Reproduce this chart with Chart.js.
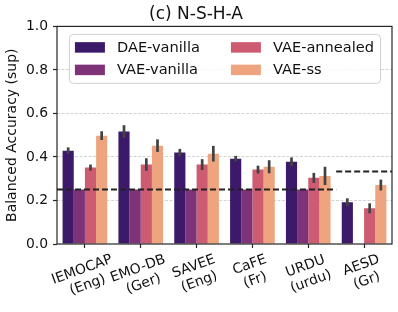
<!DOCTYPE html>
<html><head><meta charset="utf-8">
<script src="https://cdn.jsdelivr.net/npm/chart.js@4.4.1/dist/chart.umd.min.js"></script>
<style>html,body{margin:0;padding:0;background:#fff;} #wrap{width:398px;height:312px;}</style>
</head><body><div id="wrap"><canvas id="c" width="398" height="312"></canvas></div>
<script>
const categories = [["IEMOCAP","(Eng)"],["EMO-DB","(Ger)"],["SAVEE","(Eng)"],["CaFE","(Fr)"],["URDU","(urdu)"],["AESD","(Gr)"]];
const seriesNames = ["DAE-vanilla","VAE-vanilla","VAE-annealed","VAE-ss"];
const daeVanilla = [0.429,0.517,0.420,0.392,0.378,0.192];
const daeVanillaErr = [0.015,0.029,0.017,0.013,0.020,0.018];
const vaeVanilla = [0.25,0.25,0.25,0.25,0.25,null];
const vaeVanillaErr = [0,0,0,0,0,0];
const vaeAnnealed = [0.351,0.365,0.365,0.342,0.304,0.164];
const vaeAnnealedErr = [0.014,0.029,0.025,0.018,0.023,0.023];
const vaeSs = [0.498,0.452,0.415,0.355,0.313,0.271];
const vaeSsErr = [0.020,0.029,0.036,0.030,0.042,0.025];
const chanceLevel = [0.25,0.25,0.25,0.25,0.25,0.333];
const yTicks = [0,0.2,0.4,0.6,0.8,1.0];

const colors = ["#3d1a69","#7e3378","#cd5b72","#eea57f"];
const FONT = "DejaVu Sans";
const W_X_H = 68; // x-axis band height
const Y_AX_W = 57;

const allValues = [daeVanilla, vaeVanilla, vaeAnnealed, vaeSs];
const allErrs = [daeVanillaErr, vaeVanillaErr, vaeAnnealedErr, vaeSsErr];

const datasets = seriesNames.map((n,i)=>({
  label:n, data:allValues[i], errors:allErrs[i],
  backgroundColor:colors[i], borderWidth:0,
  categoryPercentage:0.8, barPercentage:1.0
}));

const overlayPlugin = {
  id:'overlay',
  afterDatasetsDraw(chart){
    const ctx = chart.ctx, xs = chart.scales.x, ys = chart.scales.y;
    // chance level dashed lines (merge consecutive equal levels)
    ctx.save();
    ctx.strokeStyle = '#222';
    ctx.lineWidth = 2;
    ctx.setLineDash([6,3]);
    let start = 0;
    for (let i=1;i<=chanceLevel.length;i++){
      if (i===chanceLevel.length || chanceLevel[i]!==chanceLevel[start]){
        const yv = ys.getPixelForValue(chanceLevel[start]);
        ctx.beginPath();
        ctx.moveTo(xs.getPixelForValue(start-0.5), yv);
        ctx.lineTo(xs.getPixelForValue(i-0.5), yv);
        ctx.stroke();
        start = i;
      }
    }
    ctx.restore();
    // error bars
    ctx.save();
    ctx.strokeStyle = '#424242';
    ctx.lineWidth = 2.7;
    ctx.lineCap = 'butt';
    chart.data.datasets.forEach((ds,di)=>{
      const meta = chart.getDatasetMeta(di);
      meta.data.forEach((bar,i)=>{
        const v = ds.data[i], e = ds.errors[i];
        if (v==null || !e) return;
        ctx.beginPath();
        ctx.moveTo(bar.x, ys.getPixelForValue(v-e));
        ctx.lineTo(bar.x, ys.getPixelForValue(v+e));
        ctx.stroke();
      });
    });
    ctx.restore();
  },
  afterDraw(chart){
    const ctx = chart.ctx, ca = chart.chartArea, xs = chart.scales.x;
    // frame
    ctx.save();
    ctx.strokeStyle = '#262626';
    ctx.lineWidth = 1.2;
    ctx.strokeRect(ca.left, ca.top, ca.right-ca.left, ca.bottom-ca.top);
    ctx.restore();
    // x tick labels, rotated 20deg, centered on tick
    ctx.save();
    const fs = 13.9, ls = 16.2;
    ctx.font = fs + 'px "' + FONT + '"';
    ctx.fillStyle = '#111';
    ctx.textAlign = 'center';
    ctx.textBaseline = 'middle';
    const ang = 20*Math.PI/180;
    const top = ca.bottom + 7.5;
    categories.forEach((lines,i)=>{
      const x = xs.getPixelForValue(i);
      const w = Math.max(...lines.map(l=>ctx.measureText(l).width));
      const h = (lines.length-1)*ls + fs*1.15;
      const hb = w*Math.sin(ang) + h*Math.cos(ang);
      ctx.save();
      ctx.translate(x, top + hb/2);
      ctx.rotate(-ang);
      lines.forEach((l,k)=>{
        ctx.fillText(l, 0, (k-(lines.length-1)/2)*ls);
      });
      ctx.restore();
    });
    ctx.restore();
    // legend (upper center, 2 columns)
    ctx.save();
    const lf = 14.6;
    ctx.font = lf + 'px "' + FONT + '"';
    const cols = [[0,1],[2,3]];
    const patchW = 30, patchH = 10.5, gap = 12, colSp = 31, pad = 6;
    const colW = cols.map(c=>Math.max(...c.map(k=>ctx.measureText(seriesNames[k]).width)));
    const boxW = pad + patchW + gap + colW[0] + colSp + patchW + gap + colW[1] + pad;
    const boxH = 49;
    const bx = (ca.left+ca.right)/2 - boxW/2;
    const by = ca.top + 7.5;
    ctx.beginPath();
    if (ctx.roundRect) ctx.roundRect(bx+0.5, by+0.5, boxW, boxH, 4); else ctx.rect(bx+0.5,by+0.5,boxW,boxH);
    ctx.fillStyle = 'rgba(255,255,255,0.8)';
    ctx.fill();
    ctx.strokeStyle = '#d0d0d0';
    ctx.lineWidth = 1;
    ctx.stroke();
    ctx.textAlign = 'left';
    ctx.textBaseline = 'middle';
    const rowY = [by + 13.5, by + 36];
    let cx = bx + pad;
    cols.forEach((c,ci)=>{
      c.forEach((k,ri)=>{
        ctx.fillStyle = colors[k];
        ctx.fillRect(cx, rowY[ri]-patchH/2, patchW, patchH);
        ctx.fillStyle = '#111';
        ctx.fillText(seriesNames[k], cx + patchW + gap, rowY[ri]+0.5);
      });
      cx += patchW + gap + colW[ci] + colSp;
    });
    ctx.restore();
  }
};

new Chart(document.getElementById('c'), {
  type:'bar',
  data:{ labels: categories.map(c=>c.join(' ')), datasets },
  options:{
    responsive:false, animation:false, devicePixelRatio:1,
    layout:{ padding:{left:0,right:6,top:0,bottom:0} },
    plugins:{
      legend:{display:false},
      tooltip:{enabled:false},
      title:{display:true, text:'(c) N-S-H-A', color:'#111',
        font:{family:FONT, size:17, weight:'normal'}, padding:{top:4,bottom:2}}
    },
    scales:{
      x:{
        offset:true,
        grid:{display:true, drawOnChartArea:false, drawTicks:true, tickLength:4, offset:false, tickColor:'#262626', tickWidth:1.2},
        border:{display:false},
        ticks:{display:false},
        afterFit(s){ s.height = W_X_H; }
      },
      y:{
        min:0, max:1,
        afterBuildTicks(s){ s.ticks = yTicks.map(v=>({value:v})); },
        ticks:{ callback:v=>Number(v).toFixed(1), font:{family:FONT,size:13.9}, color:'#111', padding:5 },
        grid:{ color:c=> (c.tick && (c.tick.value===0 || c.tick.value===1)) ? 'rgba(0,0,0,0)' : '#d4d4d4',
               lineWidth:1, tickColor:'#262626', tickLength:4, tickWidth:1.2, drawTicks:true },
        border:{display:false, dash:[3,1.5]},
        title:{display:true, text:'Balanced Accuracy (sup)', color:'#111',
               font:{family:FONT,size:14}, padding:{top:4,bottom:0}},
        afterFit(s){ s.width = Y_AX_W; }
      }
    }
  },
  plugins:[overlayPlugin]
});
</script></body></html>
